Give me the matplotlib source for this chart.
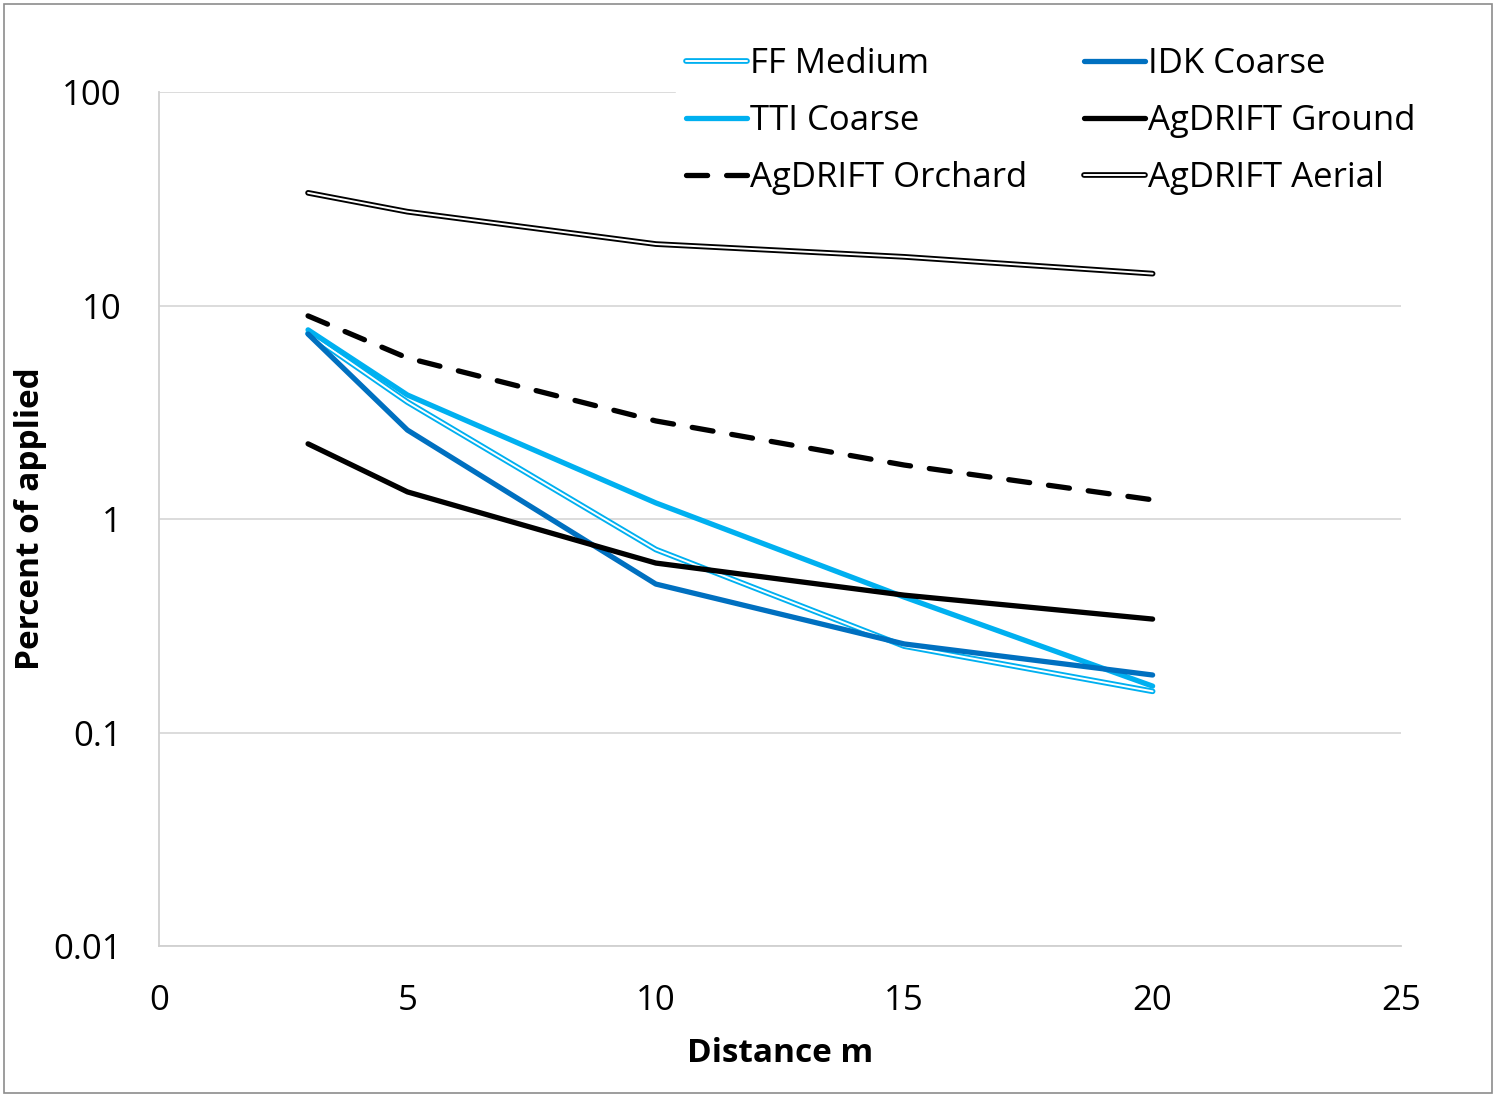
import matplotlib
matplotlib.use("Agg")
import matplotlib.pyplot as plt
import matplotlib.patheffects as pe
from matplotlib.patches import Rectangle
from matplotlib.ticker import FixedLocator, FixedFormatter, NullLocator

plt.rcParams['font.family'] = ['Open Sans', 'DejaVu Sans']

distance = [3, 5, 10, 15, 20]
ff_medium = [7.4, 3.53, 0.72, 0.254, 0.156]
tti_coarse = [7.69, 3.81, 1.19, 0.431, 0.165]
agdrift_orchard = [8.94, 5.68, 2.88, 1.79, 1.23]
idk_coarse = [7.35, 2.61, 0.496, 0.26, 0.186]
agdrift_ground = [2.25, 1.34, 0.622, 0.44, 0.34]
agdrift_aerial = [33.7, 27.5, 19.4, 16.9, 14.1]

y_ticks = [0.01, 0.1, 1, 10, 100]
y_labels = ["0.01", "0.1", "1", "10", "100"]
x_ticks = [0, 5, 10, 15, 20, 25]

light_blue = "#00b0f0"
dark_blue = "#0070c0"
lw = 3.8
fs = 25

fig = plt.figure(figsize=(14.96, 10.95), dpi=100)
ax = fig.add_axes([0.1063, 0.136, 0.8302, 0.780])

# double lines: coloured outer stroke with a white core
ax.plot(distance, ff_medium, color="white", lw=1.4, solid_capstyle="round",
        label="FF Medium",
        path_effects=[pe.Stroke(linewidth=lw + 0.3, foreground=light_blue), pe.Normal()])
ax.plot(distance, tti_coarse, color=light_blue, lw=lw, solid_capstyle="round",
        label="TTI Coarse")
ax.plot(distance, agdrift_orchard, color="black", lw=lw, dash_capstyle="round",
        linestyle=(0, (4.0, 3.6)), label="AgDRIFT Orchard")
ax.plot(distance, idk_coarse, color=dark_blue, lw=lw, solid_capstyle="round",
        label="IDK Coarse")
ax.plot(distance, agdrift_ground, color="black", lw=lw, solid_capstyle="round",
        label="AgDRIFT Ground")
ax.plot(distance, agdrift_aerial, color="white", lw=1.4, solid_capstyle="round",
        label="AgDRIFT Aerial",
        path_effects=[pe.Stroke(linewidth=lw + 0.3, foreground="black"), pe.Normal()])

ax.set_yscale("log")
ax.set_ylim(0.01, 100)
ax.set_xlim(0, 25)
ax.yaxis.set_major_locator(FixedLocator(y_ticks))
ax.yaxis.set_major_formatter(FixedFormatter(y_labels))
ax.yaxis.set_minor_locator(NullLocator())
ax.set_xticks(x_ticks)
ax.tick_params(axis="both", length=0, labelsize=fs, colors="black")
ax.tick_params(axis="y", pad=27)
ax.tick_params(axis="x", pad=27)

ax.grid(axis="y", color="#d9d9d9", lw=1.3)
ax.set_axisbelow(True)
for side in ["top", "right"]:
    ax.spines[side].set_visible(False)
for side in ["left", "bottom"]:
    ax.spines[side].set_color("#d0d0d0")
    ax.spines[side].set_linewidth(1.3)

ax.set_xlabel("Distance m", fontsize=24, fontweight="bold", labelpad=14)
ax.set_ylabel("Percent of applied", fontsize=24, fontweight="bold")
ax.yaxis.set_label_coords(-0.09, 0.5)

handles, labels = ax.get_legend_handles_labels()
leg = fig.legend(handles, labels, ncol=2, loc="upper left",
                 bbox_to_anchor=(0.44, 0.982), fontsize=fs,
                 frameon=True, fancybox=False, edgecolor="white",
                 facecolor="white", framealpha=1,
                 handlelength=1.75, handletextpad=0.1, columnspacing=1.63,
                 labelspacing=0.66, borderpad=0.3)

fig.patches.append(Rectangle((0.003, 0.002), 0.994, 0.994, transform=fig.transFigure,
                             fill=False, edgecolor="#8c8c8c", lw=1.2))

fig.savefig("out.png", dpi=100, facecolor="white")
